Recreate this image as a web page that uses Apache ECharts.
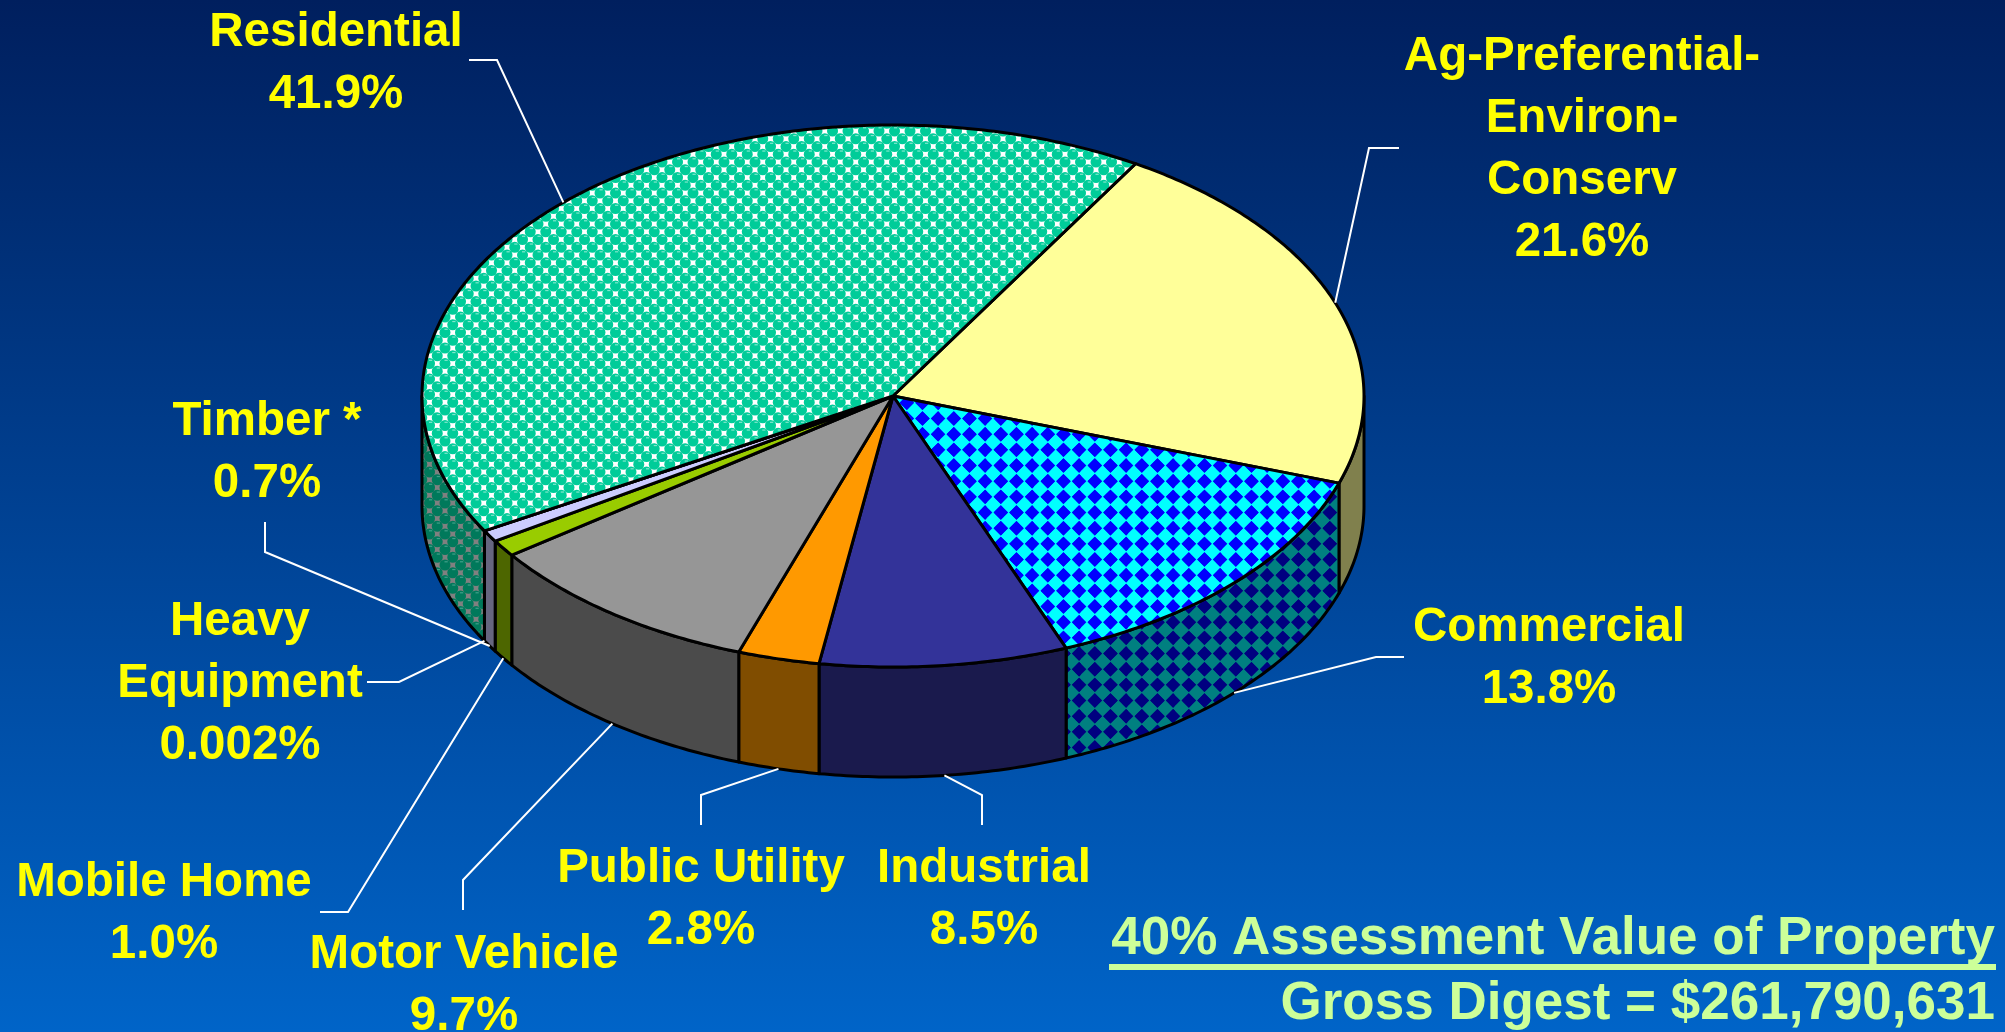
<!DOCTYPE html>
<html>
<head>
<meta charset="utf-8">
<style>html,body{margin:0;padding:0;background:#003f8c}#chart{width:2005px;height:1032px}</style>
<script src="https://cdn.jsdelivr.net/npm/echarts@6/dist/echarts.min.js"></script>
</head>
<body>
<div id="chart"></div>
<script>
// ---- data (clockwise from the Residential / Ag boundary) ----
var categories = ['Ag-Preferential-\nEnviron-\nConserv', 'Commercial', 'Industrial', 'Public Utility', 'Motor Vehicle', 'Mobile Home', 'Timber *', 'Heavy\nEquipment', 'Residential'];
var values = [21.6, 13.8, 8.5, 2.8, 9.7, 1.0, 0.7, 0.002, 41.9];
var valueLabels = ['21.6%', '13.8%', '8.5%', '2.8%', '9.7%', '1.0%', '0.7%', '0.002%', '41.9%'];
var noteTitle = '40% Assessment Value of Property';
var noteValue = 'Gross Digest = $261,790,631';

// ---- styles ----
var topFills = ['#FFFF99', 'diamondTop', '#333399', '#FF9900', '#969696', '#99CC00', '#CCCCFF', '#FFFFFF', 'ballTop'];
var sideFills = ['#80804D', 'diamondSide', '#1A1A4D', '#804D00', '#4B4B4B', '#4D6600', '#666680', '#808080', 'ballSide'];

// ---- layout ----
var pieLayout = { cx: 893, cy: 396, rx: 471, ry: 271, depth: 110, startDeg: -59 };
var labelLayout = [
  { x: 1582, y: 150, elbows: [[1399, 148], [1369, 148]] },
  { x: 1549, y: 659, elbows: [[1404, 657], [1376, 657]] },
  { x: 984, y: 900, elbows: [[982, 825], [982, 795]] },
  { x: 701, y: 900, elbows: [[701, 825], [701, 795]] },
  { x: 464, y: 986, elbows: [[463, 910], [463, 880]] },
  { x: 164, y: 914, elbows: [[320, 912], [348, 912]] },
  { x: 267, y: 453, elbows: [[265, 522], [265, 552]] },
  { x: 240, y: 684, elbows: [[367, 682], [399, 682]] },
  { x: 336, y: 64, elbows: [[469, 60], [497, 60]] }
];

// ---- pattern tiles ----
function makeTile(size, draw) {
  var c = document.createElement('canvas');
  c.width = c.height = size;
  draw(c.getContext('2d'));
  return { image: c, repeat: 'repeat' };
}
function ballTile(bg, body, glint) {
  var size = 31, step = 15.5;
  return makeTile(size, function (g) {
    g.fillStyle = bg; g.fillRect(0, 0, size, size);
    for (var i = -1; i < 4; i++) for (var j = -1; j < 6; j++) {
      var x = 11 + i * step + (j % 2 ? step / 2 : 0), y = 7 + j * step / 2 - step;
      g.fillStyle = body; g.beginPath(); g.arc(x, y, 5.5, 0, Math.PI * 2); g.fill();
      g.fillStyle = glint; g.fillRect(x - 0.5, y - 3.8, 3.2, 1.2);
    }
  });
}
function diamondTile(bg, fg) {
  var size = 47, step = 47 / 3, r = 7.2;   // 3 periods of the rotated checker
  return makeTile(size, function (g) {
    g.fillStyle = bg; g.fillRect(0, 0, size, size);
    g.fillStyle = fg;
    for (var i = -1; i < 5; i++) for (var j = -1; j < 5; j++) {
      var x = 13.8 + i * step - step, y = 11.2 + j * step - step;
      g.beginPath(); g.moveTo(x, y - r); g.lineTo(x + r, y); g.lineTo(x, y + r); g.lineTo(x - r, y); g.closePath(); g.fill();
      x += 2 * step; y += 0;
      g.beginPath(); g.moveTo(x, y - r); g.lineTo(x + r, y); g.lineTo(x, y + r); g.lineTo(x - r, y); g.closePath(); g.fill();
    }
  });
}
var patterns = {
  ballTop: ballTile('#FFFFFF', '#00CC99', '#80E6CC'),
  ballSide: ballTile('#808080', '#00795B', '#40A08A'),
  diamondTop: diamondTile('#00FFFF', '#0000FF'),
  diamondSide: diamondTile('#008080', '#000080')
};
function fillOf(name) { return patterns[name] || name; }

// ---- geometry ----
var total = values.reduce(function (a, b) { return a + b; }, 0);
var cum = 0;
var sliceRows = values.map(function (v, i) {
  var row = [v, cum, cum + v, i];
  cum += v;
  return row;
});
function toDeg(c) { return pieLayout.startDeg + c / total * 360; }
function pointAt(deg, dy) {
  var t = deg * Math.PI / 180;
  return [pieLayout.cx + pieLayout.rx * Math.cos(t), pieLayout.cy + pieLayout.ry * Math.sin(t) + dy];
}
function arcPoints(a, b, dy) {
  var n = Math.max(2, Math.ceil(Math.abs(b - a) * 1.5)), out = [];
  for (var i = 0; i <= n; i++) out.push(pointAt(a + (b - a) * i / n, dy));
  return out;
}
function styled(fill) { return { fill: fill, stroke: '#000000', lineWidth: 3, lineJoin: 'round' }; }

function renderSide(params, api) {
  var a = Math.max(toDeg(api.value(1)), 0), b = Math.min(toDeg(api.value(2)), 180);
  if (b <= a) return { type: 'group', children: [] };
  var pts = arcPoints(a, b, 0).concat(arcPoints(b, a, pieLayout.depth));
  return { type: 'polygon', shape: { points: pts }, style: styled(fillOf(sideFills[api.value(3)])) };
}
function renderTop(params, api) {
  var a = toDeg(api.value(1)), b = toDeg(api.value(2));
  var pts = [[pieLayout.cx, pieLayout.cy]].concat(arcPoints(a, b, 0));
  return { type: 'polygon', shape: { points: pts }, style: styled(fillOf(topFills[api.value(3)])) };
}
function renderLabel(params, api) {
  var i = api.value(3), lay = labelLayout[i];
  var mid = (toDeg(api.value(1)) + toDeg(api.value(2))) / 2;
  var s = Math.sin(mid * Math.PI / 180);
  var anchor = pointAt(mid, s > 0 ? pieLayout.depth : 0);
  return {
    type: 'group',
    children: [
      { type: 'polyline', shape: { points: lay.elbows.concat([anchor]) },
        style: { fill: 'none', stroke: '#FFFFFF', lineWidth: 2 } },
      { type: 'text', x: lay.x, y: lay.y,
        style: { text: categories[i] + '\n' + valueLabels[i], fill: '#FFFF00',
          font: 'bold 47.5px "Liberation Sans", Arial, sans-serif', lineHeight: 62,
          align: 'center', verticalAlign: 'middle' } }
    ]
  };
}

var chart = echarts.init(document.getElementById('chart'), null, { renderer: 'canvas' });
chart.setOption({
  animation: false,
  backgroundColor: new echarts.graphic.LinearGradient(0, 0, 0, 1, [
    { offset: 0, color: '#001F5E' }, { offset: 1, color: '#0064C8' }
  ]),
  tooltip: { show: false },
  series: [
    { type: 'custom', name: 'sides', coordinateSystem: 'none', z: 1, silent: true, renderItem: renderSide, data: sliceRows },
    { type: 'custom', name: 'tops', coordinateSystem: 'none', z: 2, silent: true, renderItem: renderTop, data: sliceRows },
    { type: 'custom', name: 'labels', coordinateSystem: 'none', z: 3, silent: true, renderItem: renderLabel, data: sliceRows }
  ],
  graphic: [
    { type: 'text', right: 10, top: 913, z: 5,
      style: { text: noteTitle, fill: '#CCFF99', font: 'bold 53px "Liberation Sans", Arial, sans-serif' } },
    { type: 'rect', shape: { x: 1109, y: 964, width: 887, height: 6 }, style: { fill: '#CCFF99' }, z: 5 },
    { type: 'text', right: 10, top: 978, z: 5,
      style: { text: noteValue, fill: '#CCFF99', font: 'bold 53px "Liberation Sans", Arial, sans-serif' } }
  ]
});
</script>
</body>
</html>
